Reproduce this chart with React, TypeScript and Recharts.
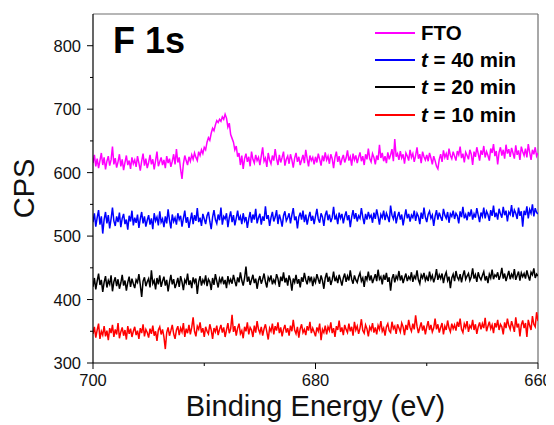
import React from 'react';
import { LineChart, Line, XAxis, YAxis, ReferenceLine, Legend, Customized } from 'recharts';

const energyStart = 700;
const energyStep = 0.125;

const seriesNames = ['FTO', 't = 40 min', 't = 20 min', 't = 10 min'];
const seriesColors = ['#FF00FF', '#0000FF', '#000000', '#FF0000'];

const ftoCounts = [
  615, 628, 610, 622, 607, 619, 631, 612, 624, 605,
  618, 626, 611, 620, 641, 613, 623, 608, 617, 629,
  610, 621, 604, 616, 627, 612, 619, 606, 624, 614,
  620, 609, 626, 615, 603, 618, 630, 611, 622, 607,
  616, 628, 613, 621, 605, 619, 633, 610, 617, 624,
  612, 620, 607, 626, 615, 622, 609, 618, 629, 613,
  637, 616, 624, 605, 590, 614, 627, 619, 612, 625,
  618, 628, 621, 631, 624, 619, 633, 627, 636, 630,
  640, 636, 648, 655, 651, 662, 670, 666, 675, 682,
  679, 684, 681, 688, 684, 692, 686, 672, 678, 660,
  654, 648, 636, 642, 625, 631, 612, 627, 606, 622,
  630, 617, 625, 610, 633, 621, 615, 628, 619, 624,
  612, 626, 640, 618, 623, 609, 631, 620, 614, 627,
  619, 637, 622, 612, 628, 616, 624, 633, 611, 621,
  626, 614, 629, 620, 608, 623, 631, 617, 625, 612,
  620, 628, 615, 636, 622, 610, 627, 619, 624, 613,
  625, 616, 630, 621, 611, 627, 618, 632, 620, 626,
  614, 629, 622, 607, 624, 633, 617, 626, 612, 621,
  628, 616, 623, 635, 619, 625, 611, 630, 620, 627,
  615, 624, 632, 618, 626, 612, 629, 621, 638, 622,
  617, 630, 624, 613, 627, 620, 644, 623, 631, 618,
  626, 615, 632, 621, 628, 637, 618, 653, 625, 630,
  620, 634, 623, 629, 614, 631, 626, 619, 636, 624,
  630, 617, 627, 640, 622, 629, 615, 633, 625, 620,
  628, 618, 631, 623, 613, 626, 619, 610, 606, 621,
  629, 617, 635, 624, 630, 620, 638, 627, 622, 633,
  626, 619, 634, 628, 641, 623, 630, 616, 632, 627,
  621, 636, 629, 612, 633, 625, 640, 630, 619, 635,
  628, 642, 624, 633, 627, 619, 638, 631, 645, 626,
  634, 613, 632, 640, 627, 636, 622, 644, 630, 637,
  625, 639, 631, 622, 643, 628, 635, 620, 641, 633,
  627, 638, 624, 645, 632, 620, 636, 629, 640, 626,
  631,
];

const t40Counts = [
  522, 536, 515, 529, 541, 518, 531, 504, 526, 538,
  520, 533, 512, 527, 545, 524, 516, 531, 522, 537,
  514, 528, 535, 519, 526, 510, 532, 523, 540, 517,
  529, 521, 534, 513, 527, 538, 520, 531, 515, 525,
  533, 518, 528, 511, 536, 524, 530, 517, 539, 522,
  527, 514, 531, 520, 542, 525, 512, 534, 523, 529,
  518, 536, 526, 532, 515, 528, 540, 521, 530, 513,
  525, 537, 519, 533, 524, 544, 522, 529, 516, 535,
  527, 519, 532, 538, 523, 511, 530, 541, 526, 520,
  534, 525, 545, 518, 531, 527, 536, 514, 529, 539,
  522, 533, 517, 528, 540, 525, 531, 519, 536, 524,
  530, 513, 527, 538, 521, 534, 526, 543, 520, 529,
  535, 518, 531, 524, 547, 527, 533, 516, 529, 538,
  523, 530, 541, 519, 534, 526, 515, 532, 539, 524,
  529, 536, 520, 533, 544, 525, 531, 512, 530, 537,
  526, 540, 522, 534, 518, 529, 538, 524, 532, 519,
  531, 543, 527, 521, 536, 530, 516, 533, 540, 525,
  534, 522, 529, 546, 526, 532, 519, 537, 528, 535,
  520, 531, 539, 525, 533, 514, 530, 541, 527, 536,
  523, 532, 528, 544, 530, 519, 535, 526, 538, 529,
  533, 521, 537, 527, 542, 531, 518, 534, 529, 540,
  525, 536, 530, 522, 548, 533, 527, 539, 520, 531,
  538, 526, 534, 517, 530, 542, 528, 535, 523, 533,
  529, 540, 524, 536, 531, 519, 537, 527, 545, 530,
  522, 534, 539, 528, 533, 516, 531, 541, 526, 537,
  530, 524, 543, 533, 528, 538, 521, 535, 531, 540,
  527, 536, 532, 520, 539, 530, 546, 528, 534, 525,
  538, 531, 542, 526, 535, 529, 544, 533, 522, 537,
  531, 545, 528, 539, 534, 524, 541, 532, 548, 530,
  537, 526, 543, 535, 529, 546, 533, 540, 523, 538,
  534, 549, 530, 541, 536, 527, 545, 532, 539, 515,
  540, 533, 547, 528, 542, 536, 550, 531, 544, 537,
  535,
];

const t20Counts = [
  420, 434, 416, 429, 441, 423, 431, 412, 427, 437,
  419, 430, 424, 438, 413, 428, 435, 421, 432, 417,
  426, 439, 422, 430, 414, 427, 436, 420, 433, 425,
  418, 431, 427, 440, 423, 404, 429, 435, 421, 428,
  433, 419, 446, 425, 430, 416, 434, 424, 438, 420,
  429, 436, 422, 431, 413, 427, 439, 424, 432, 418,
  425, 434, 420, 437, 428, 415, 431, 426, 441, 423,
  430, 418, 435, 427, 433, 409, 428, 437, 422, 431,
  426, 438, 421, 432, 428, 415, 434, 423, 440, 429,
  419, 433, 427, 436, 424, 431, 418, 437, 426, 432,
  425, 439, 429, 421, 435, 427, 443, 430, 422, 434,
  452, 428, 436, 423, 431, 439, 426, 433, 417, 430,
  437, 425, 432, 441, 428, 419, 435, 430, 438, 424,
  431, 426, 440, 433, 420, 436, 429, 443, 427, 434,
  422, 438, 430, 414, 433, 427, 439, 425, 432, 419,
  435, 428, 442, 431, 424, 437, 429, 436, 421, 433,
  427, 440, 432, 425, 438, 430, 417, 434, 442, 428,
  436, 423, 431, 444, 429, 435, 426, 439, 431, 422,
  434, 441, 428, 437, 430, 446, 432, 425, 438, 431,
  427, 436, 442, 429, 434, 420, 437, 431, 444, 430,
  438, 426, 433, 440, 429, 447, 432, 436, 424, 439,
  431, 442, 428, 435, 414, 433, 440, 427, 437, 432,
  445, 430, 438, 426, 434, 441, 429, 436, 432, 443,
  428, 437, 433, 446, 431, 425, 439, 434, 442, 430,
  436, 429, 444, 432, 438, 427, 435, 448, 431, 439,
  433, 441, 426, 437, 443, 430, 436, 418, 434, 440,
  429, 445, 435, 431, 440, 427, 438, 446, 432, 437,
  441, 430, 436, 449, 433, 439, 428, 443, 435, 431,
  438, 444, 430, 437, 426, 440, 434, 447, 432, 439,
  436, 443, 431, 438, 450, 433, 441, 429, 437, 445,
  432, 440, 435, 448, 431, 438, 444, 430, 442, 436,
  441, 433, 446, 437, 430, 443, 439, 449, 434, 440,
  437,
];

const t10Counts = [
  346, 357, 340, 352, 362, 338, 350, 344, 358, 342,
  351, 336, 355, 347, 360, 341, 353, 345, 363, 339,
  349, 356, 343, 352, 337, 358, 346, 354, 341, 350,
  357, 344, 351, 338, 355, 347, 361, 342, 353, 348,
  340, 354, 346, 359, 343, 350, 335, 352, 357, 345,
  353, 341, 322, 348, 356, 343, 351, 360, 346, 338,
  352, 358, 344, 355, 349, 363, 341, 354, 347, 360,
  345, 356, 372, 350, 342, 358, 353, 364, 348, 355,
  341, 357, 350, 346, 361, 352, 338, 355, 349, 359,
  344, 353, 360, 348, 356, 341, 352, 363, 347, 354,
  376, 349, 358, 343, 355, 362, 346, 351, 339, 357,
  350, 364, 345, 356, 352, 341, 359, 348, 366, 353,
  347, 357, 343, 354, 361, 349, 337, 355, 350, 362,
  345, 358, 351, 364, 347, 356, 342, 353, 360, 348,
  355, 343, 359, 350, 368, 352, 346, 357, 340, 354,
  361, 348, 353, 344, 358, 351, 365, 347, 355, 349,
  342, 356, 350, 362, 336, 353, 348, 359, 345, 357,
  351, 364, 347, 355, 341, 358, 352, 367, 349, 356,
  344, 360, 353, 348, 362, 350, 357, 343, 365, 352,
  358, 346, 355, 369, 351, 347, 360, 354, 342, 357,
  352, 363, 348, 356, 345, 359, 353, 366, 350, 355,
  343, 357, 362, 351, 348, 365, 354, 358, 346, 361,
  355, 349, 363, 357, 344, 360, 352, 368, 356, 350,
  362, 353, 375, 358, 347, 356, 364, 351, 359, 345,
  357, 366, 352, 360, 349, 355, 370, 353, 361, 348,
  356, 363, 345, 358, 352, 367, 355, 349, 362, 354,
  360, 351, 365, 357, 370, 353, 348, 362, 356, 366,
  349, 359, 355, 368, 352, 361, 346, 357, 364, 353,
  362, 355, 371, 350, 358, 365, 354, 360, 347, 363,
  356, 368, 352, 361, 357, 345, 364, 355, 370, 359,
  353, 366, 358, 349, 372, 356, 362, 342, 360, 367,
  355, 363, 341, 368, 359, 352, 374, 361, 357, 380,
  366,
];

const xTicks = [700, 690, 680, 670, 660];
const yTicks = [300, 350, 400, 450, 500, 550, 600, 650, 700, 750, 800];
const xDomain = [660, 700];
const yDomain = [300, 850];

const chartData = ftoCounts.map((v, i) => ({
  e: energyStart - i * energyStep,
  fto: v,
  t40: t40Counts[i],
  t20: t20Counts[i],
  t10: t10Counts[i],
}));

const FONT = "'Liberation Sans', Arial, sans-serif";

const YTick = (props: any) => {
  const { x, y, payload } = props;
  const major = payload.value % 100 === 0;
  return (
    <g>
      <line x1={x} x2={x - (major ? 6 : 3)} y1={y} y2={y} stroke="#000" strokeWidth={1} />
      {major && (
        <text x={x - 12} y={y} textAnchor="end" dominantBaseline="central" fontSize={16.5} fill="#111" fontFamily={FONT}>
          {payload.value}
        </text>
      )}
    </g>
  );
};

const XTick = (props: any) => {
  const { x, y, payload } = props;
  const major = payload.value % 20 === 0;
  return (
    <g>
      <line x1={x} x2={x} y1={y} y2={y + (major ? 6 : 3)} stroke="#000" strokeWidth={1} />
      {major && (
        <text x={x} y={y + 23} textAnchor="middle" fontSize={16.5} fill="#111" fontFamily={FONT}>
          {payload.value}
        </text>
      )}
    </g>
  );
};

const LegendContent = (props: any) => {
  const payload = [...(props.payload || [])].sort(
    (a: any, b: any) => seriesNames.indexOf(a.value) - seriesNames.indexOf(b.value)
  );
  return (
    <div style={{ fontFamily: FONT, fontWeight: 'bold', fontSize: 20.5, color: '#000' }}>
      {payload.map((p: any, idx: number) => {
        const name: string = p.value;
        const italic = name.startsWith('t ');
        return (
          <div key={idx} style={{ display: 'flex', alignItems: 'center', height: 27.3 }}>
            <div style={{ width: 40, height: 2, background: p.color, marginRight: 6 }} />
            <span style={{ whiteSpace: 'pre' }}>
              {italic ? (
                <>
                  <i>t</i>
                  {name.slice(1)}
                </>
              ) : (
                name
              )}
            </span>
          </div>
        );
      })}
    </div>
  );
};

const Title = () => (
  <text x={105} y={45} fontSize={36} fontWeight="bold" fontFamily={FONT} fill="#000">
    F 1s
  </text>
);

export default function App() {
  return (
    <div style={{ width: 546, height: 417, fontFamily: FONT }}>
      <LineChart width={546} height={417} data={chartData} margin={{ top: 6, right: 16, bottom: 0, left: 0 }}>
        <XAxis
          dataKey="e"
          type="number"
          domain={xDomain}
          reversed
          ticks={xTicks}
          interval={0}
          tick={<XTick />}
          tickLine={false}
          tickSize={0}
          tickMargin={0}
          height={62}
          axisLine={{ stroke: '#000', strokeWidth: 1.2 }}
          allowDataOverflow
          label={{ value: 'Binding Energy (eV)', position: 'insideBottom', offset: 9, fontSize: 29, fill: '#111', fontFamily: FONT }}
        />
        <YAxis
          type="number"
          domain={yDomain}
          ticks={yTicks}
          interval={0}
          tick={<YTick />}
          tickLine={false}
          tickSize={0}
          tickMargin={0}
          width={85}
          axisLine={{ stroke: '#000', strokeWidth: 1.2 }}
          allowDataOverflow
          label={{ value: 'CPS', angle: -90, position: 'insideLeft', offset: 16, fontSize: 29, fill: '#111', fontFamily: FONT, style: { textAnchor: 'middle' } }}
        />
        <ReferenceLine y={850} stroke="#6e6e6e" strokeWidth={1.2} ifOverflow="visible" />
        <ReferenceLine x={660} stroke="#6e6e6e" strokeWidth={1.2} ifOverflow="visible" />
        <Line type="linear" dataKey="fto" name={seriesNames[0]} stroke={seriesColors[0]} strokeWidth={1.5} dot={false} isAnimationActive={false} />
        <Line type="linear" dataKey="t40" name={seriesNames[1]} stroke={seriesColors[1]} strokeWidth={1.5} dot={false} isAnimationActive={false} />
        <Line type="linear" dataKey="t20" name={seriesNames[2]} stroke={seriesColors[2]} strokeWidth={1.5} dot={false} isAnimationActive={false} />
        <Line type="linear" dataKey="t10" name={seriesNames[3]} stroke={seriesColors[3]} strokeWidth={1.5} dot={false} isAnimationActive={false} />
        <Legend
          layout="horizontal"
          verticalAlign="middle"
          align="center"
          content={<LegendContent />}
          wrapperStyle={{ position: 'absolute', left: 367, top: 11, width: 175, height: 112 }}
        />
        <Customized component={Title} />
      </LineChart>
    </div>
  );
}
